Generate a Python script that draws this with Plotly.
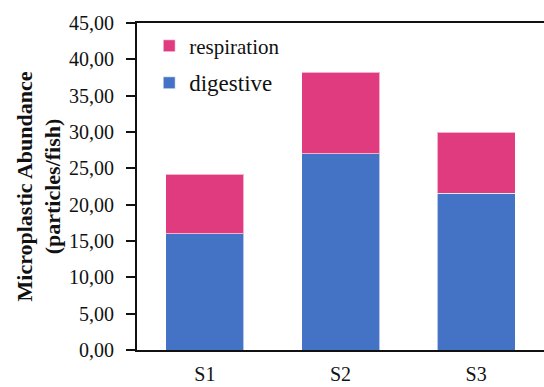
import plotly.graph_objects as go

sites = ["S1", "S2", "S3"]
digestive = [16.0, 27.0, 21.6]
respiration = [8.2, 11.2, 8.4]
y_ticks = [0, 5, 10, 15, 20, 25, 30, 35, 40, 45]
y_tick_text = ["0,00", "5,00", "10,00", "15,00", "20,00", "25,00", "30,00", "35,00", "40,00", "45,00"]

serif = "Liberation Serif, Times New Roman, serif"
ink = "#111111"

fig = go.Figure()
fig.add_trace(go.Bar(
    x=sites, y=digestive, name="<span style='font-size:23px'>digestive</span>",
    legendgroup="dig", legendrank=2,
    marker=dict(color="#4472C4", line=dict(color="rgba(255,255,255,0.6)", width=1)),
))
fig.add_trace(go.Bar(
    x=sites, y=respiration, name="<span style='font-size:21px'>respiration</span>",
    legendgroup="resp", legendrank=1,
    marker=dict(color="#E13B80", line=dict(color="rgba(255,255,255,0.6)", width=1)),
))

fig.update_layout(
    width=544, height=387,
    margin=dict(l=137, r=0, t=23, b=37),
    barmode="stack",
    bargap=0.425,
    plot_bgcolor="white",
    paper_bgcolor="white",
    font=dict(family=serif, color=ink),
    legend=dict(
        x=0.03, y=0.99, xanchor="left", yanchor="top",
        traceorder="grouped",
        tracegroupgap=8,
        font=dict(family=serif, size=20, color=ink),
        itemwidth=30,
        bgcolor="rgba(0,0,0,0)",
    ),
    xaxis=dict(
        range=[-0.5, 2.5],
        showline=True, linecolor=ink, linewidth=2, mirror=True,
        ticks="", tickfont=dict(size=20), showgrid=False,
        ticklabelstandoff=5, automargin=False,
    ),
    yaxis=dict(
        range=[0, 45],
        tickvals=y_ticks, ticktext=y_tick_text,
        showline=True, linecolor=ink, linewidth=2,
        ticks="outside", ticklen=9, tickwidth=2, tickcolor=ink,
        tickfont=dict(size=20), showgrid=False,
        ticklabelstandoff=8,
        title=dict(
            text="<b>Microplastic Abundance<br>(particles/fish)</b>",
            font=dict(size=22), standoff=2,
        ),
    ),
)

fig.write_html("out.html")
